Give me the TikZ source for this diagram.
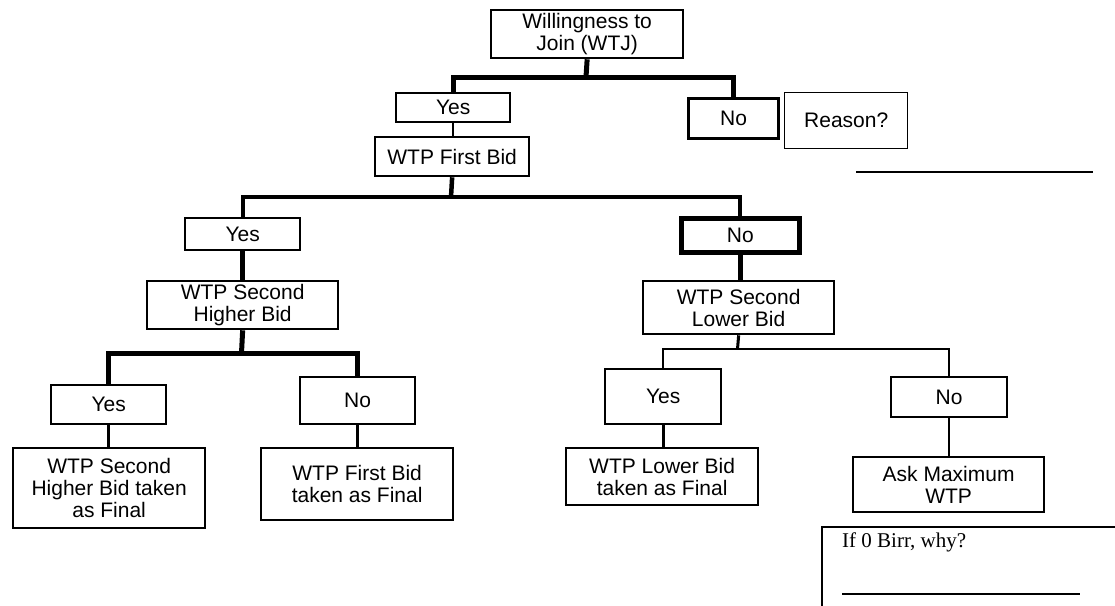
\documentclass[tikz,border=0pt]{standalone}
\usepackage{fontspec}
\setmainfont{Liberation Sans}
\newfontfamily\serifface{Liberation Serif}
\begin{document}
\begin{tikzpicture}[x=1pt,y=-1pt,
  box/.style={draw=black, line width=2.3pt, inner sep=0pt, align=center,
    font=\fontsize{21}{22}\selectfont, anchor=north west},
  thickbox/.style={box, line width=4.5pt},
  midbox/.style={box, line width=3.2pt},
  thinbox/.style={box, line width=1.4pt},
  thk/.style={line width=5pt},
  med/.style={line width=3pt},
  thn/.style={line width=1.6pt}]
\useasboundingbox (0,0) rectangle (1115,605);
% boxes
\node[box, minimum width=192pt, minimum height=48pt] (wtj) at (490,9) {Willingness to\\Join (WTJ)};
\node[box, minimum width=114pt, minimum height=29pt] (yes1) at (395,92) {Yes};
\node[midbox, minimum width=90pt, minimum height=40pt] (no1) at (687,97) {No};
\node[thinbox, minimum width=123pt, minimum height=56pt] (reason) at (784,92) {Reason?};
\node[box, minimum width=154pt, minimum height=39pt] (fb) at (374,136) {WTP First Bid};
\node[box, minimum width=115pt, minimum height=32pt] (yes2) at (184,217) {Yes};
\node[thickbox, minimum width=118pt, minimum height=34pt] (no2) at (679,216) {No};
\node[box, minimum width=191pt, minimum height=48pt] (shb) at (146,280) {WTP Second\\Higher Bid};
\node[box, minimum width=191pt, minimum height=53pt] (slb) at (642,280) {WTP Second\\Lower Bid};
\node[box, minimum width=115pt, minimum height=39pt] (yes3) at (50,384) {Yes};
\node[box, minimum width=115pt, minimum height=47pt] (no3) at (299,376) {No};
\node[box, minimum width=116pt, minimum height=55pt] (yes4) at (604,368) {Yes};
\node[box, minimum width=116pt, minimum height=40pt] (no4) at (890,376) {No};
\node[box, minimum width=192pt, minimum height=80pt] (f1) at (12,447) {WTP Second\\Higher Bid taken\\as Final};
\node[box, minimum width=192pt, minimum height=72pt] (f2) at (260,447) {WTP First Bid\\taken as Final};
\node[box, minimum width=192pt, minimum height=57pt] (f3) at (565,447) {WTP Lower Bid\\taken as Final};
\node[box, minimum width=191pt, minimum height=55pt] (f4) at (852,456) {Ask Maximum\\WTP};
% reason line
\coordinate (rl1) at (856,172);
\coordinate (rl2) at (1093,172);
\draw[line width=1.8pt] (rl1) -- (rl2);
% bottom-right open box
\coordinate (ob1) at (822,606);
\coordinate (ob2) at (822,527);
\coordinate (ob3) at (1116,527);
\draw[line width=1.4pt] (ob1) -- (ob2) -- (ob3);
\node[anchor=west, inner sep=0pt, font=\serifface\fontsize{21}{24}\selectfont] (why) at (842,542) {If 0 Birr, why?};
\coordinate (wl1) at (842,594);
\coordinate (wl2) at (1080,594);
\draw[line width=1.8pt] (wl1) -- (wl2);
% connectors level 1
\coordinate (b1) at (586,77);
\draw[thk] (wtj.south) -- (b1);
\draw[thk] (yes1.north) |- (b1) -| (no1.north);
\draw[thn] (yes1.south) -- (fb.north -| yes1.south);
% level 2
\coordinate (b2) at (451,197);
\draw[line width=4.5pt] (fb.south) -- (b2);
\draw[line width=4pt] (yes2.north) |- (b2) -| (no2.north);
\draw[thk] (yes2.south) -- (shb.north -| yes2.south);
\draw[thk] (no2.south) -- (slb.north -| no2.south);
% level 3 left
\coordinate (b3) at (241.5,353);
\draw[thk] (shb.south) -- (b3);
\draw[thk] (yes3.north) |- (b3) -| (no3.north);
\draw[med] (yes3.south) -- (f1.north -| yes3.south);
\draw[med] (no3.south) -- (f2.north -| no3.south);
% level 3 right
\coordinate (b4) at (737.5,349);
\draw[med] (slb.south) -- (b4);
\draw[line width=2pt] (yes4.north) |- (b4) -| (no4.north);
\draw[med] (yes4.south) -- (f3.north -| yes4.south);
\draw[line width=2.5pt] (no4.south) -- (f4.north -| no4.south);
\end{tikzpicture}
\end{document}
